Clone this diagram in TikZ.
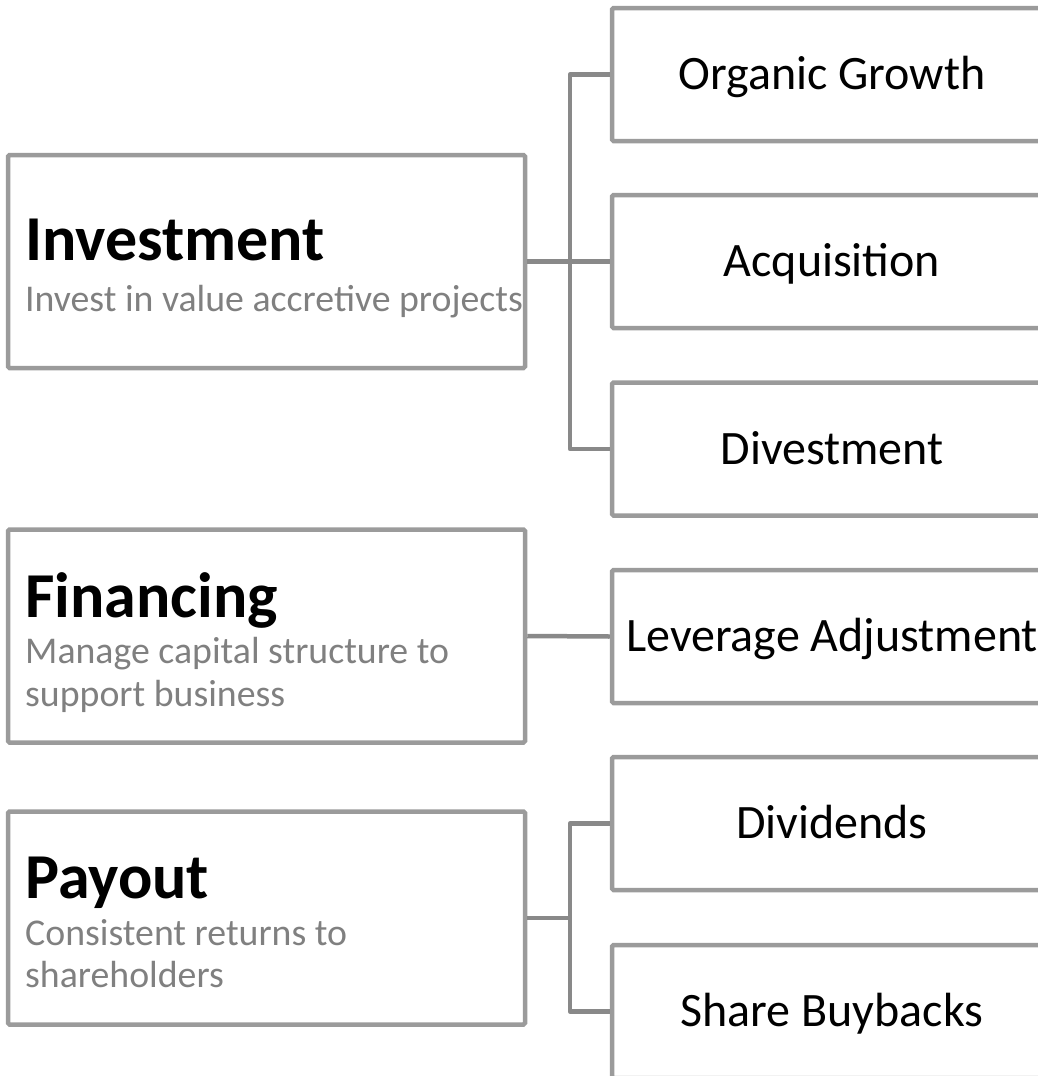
\documentclass[tikz,border=0pt]{standalone}
\usepackage{fontspec}
\setmainfont{Carlito}
\definecolor{boxgray}{RGB}{155,155,155}
\definecolor{linkgray}{RGB}{137,137,137}
\definecolor{subgray}{RGB}{128,128,128}
\tikzset{
  lbox/.style={draw=boxgray, line width=4.5pt, rounded corners=1.5pt,
               minimum width=517pt, minimum height=213pt, inner sep=0pt},
  rbox/.style={draw=boxgray, line width=4.5pt, rounded corners=1.5pt,
               minimum width=440pt, minimum height=133pt, inner sep=0pt,
               text height=36pt, text depth=6pt,
               font=\fontsize{48}{58}\selectfont, text=black},
  ttl/.style={anchor=base west, inner sep=0pt, text=black,
              font=\fontsize{64}{77}\selectfont\bfseries},
  sub/.style={anchor=base west, inner sep=0pt, text=subgray,
              font=\fontsize{37.8}{45}\selectfont},
  link/.style={draw=linkgray, line width=4.5pt, line join=round}
}
\begin{document}
\begin{tikzpicture}[x=1pt,y=-1pt]
\useasboundingbox (0,0) rectangle (1038,1076);
\clip (0,0) rectangle (1038,1076);

% left column: the three decision areas
\node[lbox] (inv) at (266.5,261.5) {};
\node[lbox] (fin) at (266.5,636) {};
\node[lbox] (pay) at (266.5,918) {};

\node[ttl] (invT) at (25,260) {Investment};
\node[sub] (invS) at (25,311) {Invest in value accretive projects};

\node[ttl] (finT) at (25,617) {Financing};
\node[sub] (finS1) at (25,663) {Manage capital structure to};
\node[sub] (finS2) at (25,706) {support business};

\node[ttl] (payT) at (25,898) {Payout};
\node[sub] (payS1) at (25,945) {Consistent returns to};
\node[sub] (payS2) at (25,987) {shareholders};

% right column: the actions
\node[rbox] (og)  at (832,74.5)  {Organic Growth};
\node[rbox] (aq)  at (832,261.5) {Acquisition};
\node[rbox] (dv)  at (832,449)   {Divestment};
\node[rbox] (lev) at (832,636.5) {Leverage Adjustment};
\node[rbox] (dvd) at (832,823.5) {Dividends};
\node[rbox] (sb)  at (832,1011.5){Share Buybacks};

% branching points
\coordinate (invJ) at (570,261.5);
\coordinate (payJ) at (570,918);

% connectors
\draw[link] (inv.east) -- (invJ) -- (aq.west);
\draw[link] (og.west) -| (invJ) |- (dv.west);
\draw[link] (fin.east) -- (lev.west);
\draw[link] (pay.east) -- (payJ);
\draw[link] (dvd.west) -| (payJ) |- (sb.west);
\end{tikzpicture}
\end{document}
